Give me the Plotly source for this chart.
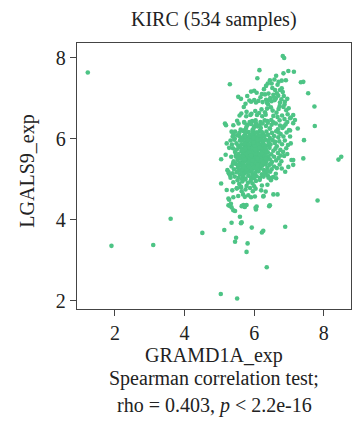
import plotly.graph_objects as go

# GRAMD1A vs LGALS9 expression, KIRC cohort (log2 scale)

# Upper part of the cloud (LGALS9 > ~6.8)
upper = [
    (6.15, 7.69), (6.82, 8.04), (6.86, 7.99), (5.30, 7.34), (6.09, 7.49), (6.63, 7.55), (6.58, 7.46),
    (6.84, 7.61), (6.98, 7.67), (7.14, 7.65), (6.79, 7.43), (6.91, 7.44), (6.45, 7.44), (6.50, 7.36),
    (6.39, 7.36), (6.34, 7.30), (7.34, 7.39), (7.41, 7.40), (6.67, 7.33), (6.79, 7.24), (6.74, 7.20),
    (5.91, 7.16), (6.00, 7.18), (6.07, 7.13), (7.55, 7.12), (5.54, 7.03), (6.22, 7.10), (6.31, 7.09),
    (6.41, 7.11), (6.55, 7.08), (6.65, 7.12), (6.69, 7.06), (5.86, 6.94), (5.91, 6.91), (6.00, 6.95),
    (6.05, 6.89), (6.12, 6.93), (6.24, 6.90), (6.34, 6.96), (6.37, 6.88), (6.50, 6.92), (6.59, 6.95),
    (6.74, 6.89), (6.88, 6.91), (5.62, 6.98), (5.75, 6.86), (6.18, 7.02), (6.46, 7.00), (6.60, 7.20),
    (6.85, 7.05), (6.95, 6.98), (5.80, 7.05), (6.28, 7.22), (6.52, 7.25), (6.70, 7.40), (6.45, 6.95),
    (6.62, 6.99), (6.78, 6.97), (6.82, 7.15), (6.57, 7.02), (6.73, 6.80), (6.87, 6.84), (6.96, 6.60),
    (7.05, 6.52), (6.99, 6.75),
]

# Main body, banded by LGALS9 level
core = [
    (5.63, 6.62), (5.78, 6.66), (5.92, 6.61), (6.03, 6.68), (6.14, 6.63), (6.21, 6.72), (6.31, 6.65),
    (6.37, 6.74), (6.48, 6.77), (6.53, 6.69), (6.64, 6.64), (6.70, 6.73), (6.84, 6.78), (6.40, 6.84),
    (5.70, 6.78), (6.92, 6.70),
    (5.51, 6.44), (5.58, 6.57), (5.71, 6.41), (5.77, 6.55), (5.89, 6.58), (5.94, 6.43), (6.04, 6.45),
    (6.08, 6.58), (6.18, 6.41), (6.23, 6.55), (6.33, 6.59), (6.38, 6.43), (6.49, 6.46), (6.55, 6.56),
    (6.67, 6.53), (6.73, 6.45), (6.80, 6.57), (6.87, 6.48), (6.95, 6.41), (5.87, 6.41),
    (5.40, 6.33), (5.55, 6.37), (5.61, 6.22), (5.72, 6.39), (5.76, 6.24), (5.81, 6.34), (5.91, 6.36),
    (5.95, 6.21), (6.00, 6.30), (6.05, 6.38), (6.15, 6.33), (6.19, 6.26), (6.24, 6.37), (6.34, 6.31),
    (6.39, 6.39), (6.45, 6.25), (6.50, 6.34), (6.62, 6.37), (6.68, 6.23), (6.74, 6.32), (6.81, 6.26),
    (6.90, 6.35), (7.00, 6.21), (5.98, 6.25),
    (5.38, 6.05), (5.45, 6.17), (5.51, 6.08), (5.57, 6.14), (5.62, 6.02), (5.67, 6.19),
    (5.71, 6.07), (5.75, 6.13), (5.80, 6.01), (5.84, 6.16), (5.88, 6.09), (5.92, 6.03), (5.96, 6.18),
    (6.00, 6.11), (6.04, 6.04), (6.08, 6.15), (6.12, 6.07), (6.16, 6.19), (6.20, 6.02), (6.25, 6.12),
    (6.30, 6.06), (6.35, 6.17), (6.40, 6.09), (6.45, 6.01), (6.51, 6.14), (6.57, 6.06), (6.63, 6.18),
    (6.69, 6.03), (6.76, 6.11), (6.84, 6.05), (6.93, 6.15), (5.73, 6.00), (6.22, 6.16),
    (5.36, 5.85), (5.43, 5.97), (5.49, 5.88), (5.54, 5.82), (5.59, 5.95), (5.63, 5.86),
    (5.68, 5.99), (5.72, 5.83), (5.76, 5.91), (5.80, 5.87), (5.84, 5.98), (5.87, 5.81), (5.91, 5.93),
    (5.95, 5.86), (5.99, 5.96), (6.03, 5.84), (6.07, 5.92), (6.11, 5.88), (6.15, 5.99), (6.19, 5.82),
    (6.23, 5.94), (6.27, 5.87), (6.32, 5.97), (6.37, 5.83), (6.42, 5.91), (6.47, 5.85), (6.53, 5.96),
    (6.59, 5.89), (6.65, 5.81), (6.72, 5.93), (6.80, 5.86), (6.88, 5.95), (6.97, 5.84), (5.97, 5.80),
    (6.13, 5.95),
    (5.39, 5.76), (5.45, 5.67), (5.50, 5.73), (5.55, 5.62), (5.59, 5.78),
    (5.63, 5.69), (5.67, 5.61), (5.70, 5.75), (5.74, 5.66), (5.78, 5.79), (5.81, 5.63), (5.85, 5.72),
    (5.88, 5.68), (5.92, 5.77), (5.95, 5.61), (5.98, 5.70), (6.02, 5.65), (6.05, 5.76), (6.09, 5.69),
    (6.13, 5.62), (6.17, 5.74), (6.21, 5.67), (6.25, 5.78), (6.29, 5.63), (6.34, 5.71), (6.39, 5.66),
    (6.44, 5.77), (6.49, 5.61), (6.55, 5.70), (6.61, 5.75), (6.68, 5.64), (6.75, 5.72), (6.83, 5.67),
    (6.92, 5.76), (5.90, 5.60), (6.07, 5.79),
    (5.34, 5.55), (5.41, 5.44), (5.47, 5.58), (5.52, 5.47), (5.56, 5.53), (5.60, 5.41),
    (5.64, 5.57), (5.68, 5.49), (5.71, 5.44), (5.75, 5.56), (5.79, 5.46), (5.82, 5.52), (5.86, 5.42),
    (5.89, 5.59), (5.93, 5.48), (5.96, 5.54), (6.00, 5.43), (6.03, 5.51), (6.07, 5.57), (6.10, 5.45),
    (6.14, 5.53), (6.18, 5.41), (6.22, 5.58), (6.26, 5.47), (6.30, 5.54), (6.35, 5.43), (6.40, 5.56),
    (6.45, 5.49), (6.51, 5.42), (6.57, 5.55), (6.63, 5.46), (6.70, 5.52), (6.78, 5.44), (6.86, 5.57),
    (5.80, 5.59), (6.12, 5.40), (5.62, 5.50),
    (5.35, 5.31), (5.42, 5.24), (5.48, 5.37), (5.53, 5.28), (5.57, 5.21), (5.61, 5.34), (5.65, 5.26),
    (5.69, 5.38), (5.72, 5.22), (5.76, 5.30), (5.80, 5.36), (5.83, 5.25), (5.87, 5.33), (5.91, 5.21),
    (5.94, 5.39), (5.98, 5.27), (6.02, 5.34), (6.06, 5.23), (6.10, 5.31), (6.14, 5.37), (6.18, 5.26),
    (6.23, 5.33), (6.28, 5.22), (6.33, 5.36), (6.38, 5.28), (6.44, 5.35), (6.50, 5.24), (6.57, 5.31),
    (6.65, 5.27), (6.73, 5.36), (5.39, 5.38), (5.85, 5.20), (6.20, 5.39), (5.96, 5.30),
    (5.38, 5.14), (5.44, 5.06), (5.50, 5.17), (5.55, 5.03), (5.59, 5.11), (5.63, 5.19), (5.67, 5.05),
    (5.71, 5.13), (5.75, 5.01), (5.79, 5.16), (5.83, 5.08), (5.87, 5.18), (5.91, 5.04), (5.95, 5.12),
    (5.99, 5.02), (6.03, 5.15), (6.07, 5.07), (6.12, 5.19), (6.17, 5.03), (6.22, 5.12), (6.27, 5.06),
    (6.33, 5.16), (6.39, 5.09), (6.46, 5.18), (6.55, 5.05), (6.62, 5.13), (5.65, 5.00), (5.93, 5.20),
    (5.40, 4.92), (5.52, 4.97), (5.57, 4.88), (5.61, 4.81), (5.66, 4.94),
    (5.74, 4.99), (5.78, 4.83), (5.82, 4.91), (5.90, 4.96), (5.95, 4.89), (6.00, 4.82),
    (6.05, 4.95), (6.16, 4.98), (6.22, 4.84), (6.38, 4.86), (6.48, 4.97),
    (5.37, 4.72), (5.50, 4.77), (5.62, 4.79), (5.68, 4.62), (5.75, 4.74),
    (5.88, 4.78), (5.96, 4.70), (6.04, 4.76), (6.20, 4.72), (6.33, 4.69),
]

# Samples stacked in the densest region
core_centre = [
    (5.85, 6.05), (5.95, 5.75), (6.05, 5.55), (6.15, 5.85), (5.75, 5.45), (5.65, 5.95), (6.25, 6.05),
    (6.35, 5.65), (5.55, 5.35), (6.45, 6.25), (5.90, 5.25), (6.10, 6.30), (5.70, 6.20), (6.00, 5.05),
    (6.20, 5.50), (5.80, 5.70), (6.40, 5.95), (5.60, 5.80), (6.30, 6.45), (6.12, 5.30), (5.98, 5.62),
    (6.08, 5.98), (5.78, 6.30), (6.48, 5.38), (5.68, 5.10), (6.28, 5.12), (5.58, 6.05), (6.60, 5.92),
    (6.70, 6.15), (5.48, 5.55), (5.44, 6.00), (6.76, 5.58), (6.55, 6.40), (6.85, 6.30), (5.66, 5.25),
    (6.38, 5.20),
    (5.72, 5.88), (5.78, 5.62), (5.84, 5.40), (5.90, 5.95), (5.96, 5.68), (6.02, 5.42), (6.08, 5.86),
    (6.14, 5.60), (6.20, 5.98), (6.26, 5.72), (5.70, 5.30), (5.76, 6.05), (5.82, 5.78), (5.88, 5.52),
    (5.94, 6.10), (6.00, 5.84), (6.06, 5.27), (6.12, 5.74), (6.18, 5.46), (6.24, 5.90), (6.30, 5.58),
    (5.68, 5.55), (5.74, 5.74), (5.80, 5.96), (5.86, 5.66), (5.92, 5.37), (5.98, 5.90), (6.04, 5.63),
    (6.10, 5.35), (6.16, 5.78), (6.22, 5.64), (6.28, 5.83), (6.34, 5.50), (5.66, 5.70), (5.73, 5.48),
    (5.79, 5.24), (5.85, 5.85), (5.91, 5.58), (5.97, 6.02), (6.03, 5.72), (6.09, 5.50), (6.15, 6.08),
    (6.21, 5.34), (6.27, 5.95), (6.33, 5.75), (5.75, 6.15), (5.95, 5.45), (6.05, 6.15), (6.25, 5.40),
    (5.85, 5.30),
]

# Right flank of the cloud
right = [
    (7.73, 6.79), (7.74, 6.31), (7.12, 6.58), (7.03, 6.50), (7.25, 6.25), (7.12, 6.38), (7.17, 6.46),
    (7.03, 6.05), (7.03, 6.20), (7.43, 5.96), (7.41, 5.51), (7.12, 5.47), (7.12, 5.35), (7.07, 5.47),
    (6.95, 5.62), (6.98, 5.30), (6.89, 5.18), (6.79, 5.26), (6.63, 5.02), (6.50, 5.03), (6.41, 5.03),
    (7.05, 5.88),
]

# Left flank of the cloud
left = [
    (5.05, 5.49), (5.05, 4.89), (5.16, 6.37), (5.19, 6.33), (5.21, 5.88), (5.28, 5.77), (5.23, 5.22),
    (5.27, 5.14), (5.26, 5.18), (5.30, 5.10), (5.32, 5.03), (5.21, 4.73), (5.35, 6.17), (5.40, 6.09),
    (5.28, 4.49), (5.33, 4.39), (5.26, 4.35), (5.26, 4.52), (5.40, 4.55), (5.18, 5.60), (5.32, 5.95),
]

# Lower tail
lower = [
    (5.40, 4.23), (5.59, 4.07), (5.64, 3.93), (5.35, 3.92), (6.05, 4.25), (6.43, 4.33), (6.55, 4.62),
    (6.67, 4.62), (6.27, 4.58), (5.78, 4.36), (5.73, 4.31), (5.50, 4.77), (5.62, 4.81), (5.64, 4.70),
    (5.54, 4.58), (5.73, 4.56), (5.83, 4.60), (5.91, 4.55), (6.02, 4.57), (6.26, 4.57), (5.30, 4.34),
    (5.35, 4.30), (5.64, 4.33), (5.69, 4.36), (5.72, 4.32), (6.07, 4.32), (6.04, 4.29), (6.45, 4.35),
    (5.45, 4.21), (5.62, 3.91), (5.14, 3.74), (5.93, 3.80), (6.22, 3.68), (6.26, 3.72), (6.89, 3.82),
    (5.48, 3.55), (5.45, 3.45), (5.81, 3.41), (5.78, 3.20), (6.36, 2.82), (5.04, 2.16), (5.51, 2.05),
    (7.82, 4.47),
]

# Isolated samples
far = [
    (1.22, 7.63), (1.90, 3.35), (3.10, 3.37), (3.60, 4.02), (4.51, 3.67), (8.42, 5.48), (8.50, 5.55),
]

points = upper + core + core_centre + right + left + lower + far
gramd1a_exp = [p[0] for p in points]
lgals9_exp = [p[1] for p in points]

x_ticks = [2, 4, 6, 8]
y_ticks = [2, 4, 6, 8]

FONT = "Liberation Serif"
INK = "#222222"

fig = go.Figure()
fig.add_trace(go.Scatter(
    x=gramd1a_exp, y=lgals9_exp, mode="markers",
    marker=dict(color="#4dc485", size=4.6, line=dict(width=0)),
    hoverinfo="x+y", showlegend=False,
))

axis_common = dict(
    showline=True, linecolor="#444444", linewidth=1.3, mirror=True,
    ticks="outside", ticklen=6, tickwidth=1.3, tickcolor="#444444",
    showgrid=False, zeroline=False,
    tickfont=dict(family=FONT, size=20, color=INK),
)

fig.update_layout(
    width=353, height=421,
    margin=dict(l=77, r=2, t=43, b=112),
    paper_bgcolor="white", plot_bgcolor="white",
    xaxis=dict(range=[0.91, 8.78], tickvals=x_ticks, **axis_common),
    yaxis=dict(range=[1.79, 8.36], tickvals=y_ticks, **axis_common),
    font=dict(family=FONT, color=INK),
    annotations=[
        dict(text="KIRC (534 samples)", xref="paper", yref="paper", x=0.5, y=1.0865,
             xanchor="center", yanchor="middle", showarrow=False,
             font=dict(family=FONT, size=20, color=INK)),
        dict(text="LGALS9_exp", xref="paper", yref="paper", x=-0.179, y=0.52,
             xanchor="center", yanchor="middle", textangle=-90, showarrow=False,
             font=dict(family=FONT, size=20, color=INK)),
        dict(text="GRAMD1A_exp", xref="paper", yref="paper", x=0.5, y=-0.173,
             xanchor="center", yanchor="middle", showarrow=False,
             font=dict(family=FONT, size=20, color=INK)),
        dict(text="Spearman correlation test;", xref="paper", yref="paper", x=0.5, y=-0.263,
             xanchor="center", yanchor="middle", showarrow=False,
             font=dict(family=FONT, size=20, color=INK)),
        dict(text="rho = 0.403, <i>p</i> &lt; 2.2e-16", xref="paper", yref="paper", x=0.5, y=-0.361,
             xanchor="center", yanchor="middle", showarrow=False,
             font=dict(family=FONT, size=20, color=INK)),
    ],
)

fig.write_html("out.html")
